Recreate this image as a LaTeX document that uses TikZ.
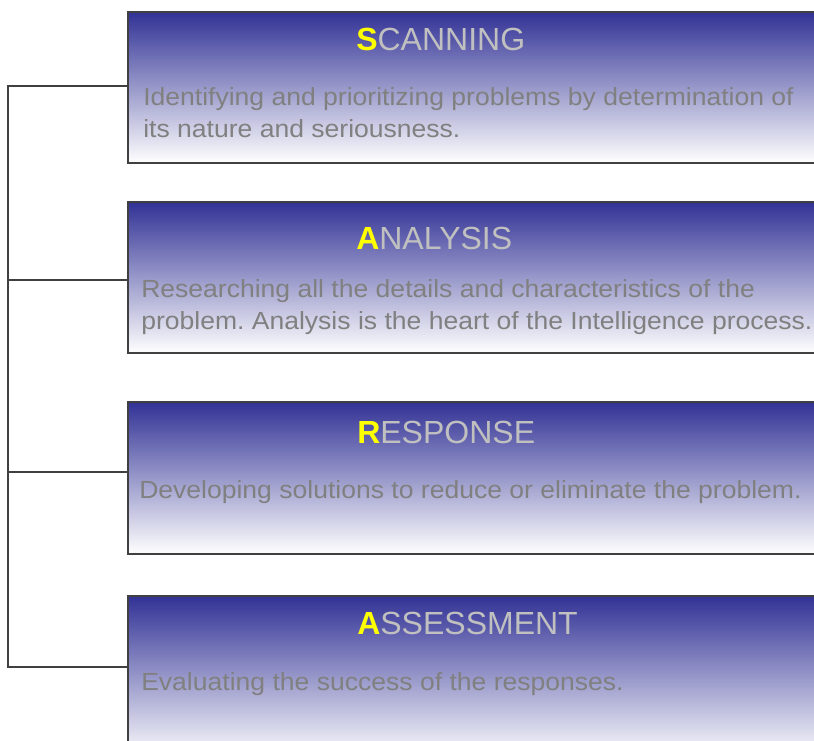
\documentclass[tikz,border=0pt]{standalone}
\usepackage{fontspec}
\setmainfont{Liberation Sans}
\newfontfamily\bodyfont[FakeStretch=1.07]{Liberation Sans}
\definecolor{boxtop}{RGB}{50,50,150}
\definecolor{boxline}{RGB}{64,64,64}
\definecolor{titlegray}{RGB}{192,192,192}
\definecolor{bodygray}{RGB}{128,128,128}
\definecolor{keyyellow}{RGB}{255,255,0}
\begin{document}
\frenchspacing
\begin{tikzpicture}[x=0.75pt,y=-0.75pt,
  stagebox/.style={draw=boxline, line width=1.1pt, top color=boxtop, bottom color=white,
    shading=axis, inner sep=0pt, outer sep=0pt, anchor=north west, minimum width=526.5pt},
  conn/.style={draw=boxline, line width=1.1pt},
  title/.style={anchor=base west, inner sep=0pt, text=titlegray, font=\fontsize{24}{28}\selectfont},
  body/.style={anchor=base west, inner sep=0pt, text=bodygray, font=\bodyfont\fontsize{18.6}{24}\selectfont}]
\useasboundingbox (0,0) rectangle (814,740);
\clip (0,0) rectangle (814,740);
% boxes
\node[stagebox, minimum height=113.25pt] (b1) at (128,12) {};
\node[stagebox, minimum height=113.25pt] (b2) at (128,202) {};
\node[stagebox, minimum height=114pt] (b3) at (128,402) {};
\node[stagebox, minimum height=123pt] (b4) at (128,596) {};
% connectors
\coordinate (c1) at (128,86);
\coordinate (c2) at (128,280);
\coordinate (c3) at (128,472);
\coordinate (c4) at (128,667);
\coordinate (j1) at (8,86);
\coordinate (j2) at (8,280);
\coordinate (j3) at (8,472);
\coordinate (j4) at (8,667);
\draw[conn, line join=miter] (c1) -- (j1) -- (j4) -- (c4);
\draw[conn] (j2) -- (c2);
\draw[conn] (j3) -- (c3);
% titles
\node[title] (t1) at (356,50) {\textcolor{keyyellow}{\bfseries S}CANNING};
\node[title] (t2) at (356,249) {\textcolor{keyyellow}{\bfseries A}NALYSIS};
\node[title] (t3) at (357,443) {\textcolor{keyyellow}{\bfseries R}ESPONSE};
\node[title] (t4) at (357,634) {\textcolor{keyyellow}{\bfseries A}SSESSMENT};
% body texts
\node[body] (d1a) at (143,105) {Identifying and prioritizing problems by determination of};
\node[body] (d1b) at (143,137) {its nature and seriousness.};
\node[body] (d2a) at (141,297) {Researching all the details and characteristics of the};
\node[body] (d2b) at (141,329) {problem. Analysis is the heart of the Intelligence process.};
\node[body] (d3) at (139,498) {Developing solutions to reduce or eliminate the problem.};
\node[body] (d4) at (141,690) {Evaluating the success of the responses.};
\end{tikzpicture}
\end{document}
